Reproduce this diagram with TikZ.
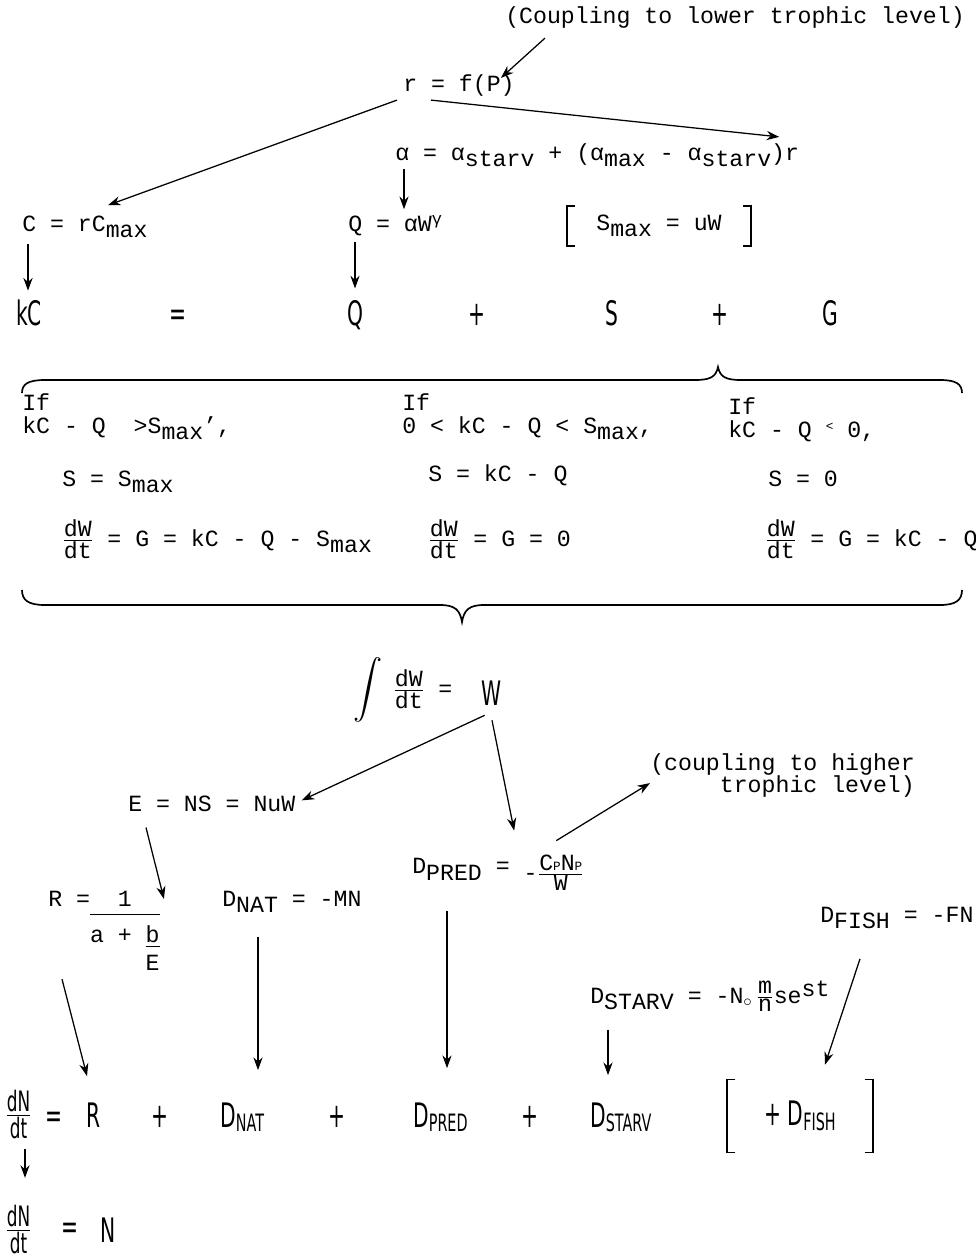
\documentclass[tikz,border=0pt]{standalone}
\usepackage{amsmath}
\usepackage{fontspec}
\setmainfont{Liberation Mono}
\newfontfamily\plotfont[FakeStretch=0.6]{DejaVu Sans}
\usetikzlibrary{calc,arrows.meta}

\newcommand{\lo}[1]{\raisebox{-4.5pt}{#1}}
\newcommand{\hi}[1]{\raisebox{4.5pt}{#1}}
\newcommand{\bsub}[1]{\raisebox{-3.5pt}{\fontsize{17}{17}\selectfont #1}}
\newcommand{\frc}[2]{\ensuremath{\genfrac{}{}{0.6pt}{}{\mbox{#1}}{\mbox{#2}}}}

\begin{document}
\begin{tikzpicture}[x=0.025cm, y=-0.025cm,
    tw/.style={font=\fontsize{16.5}{19}\selectfont, inner sep=0pt, anchor=base west},
    big/.style={font=\plotfont\fontsize{24}{28}\selectfont, inner sep=0pt, anchor=base},
    smallplot/.style={font=\plotfont\fontsize{20}{20}\selectfont},
    arr/.style={-{Stealth[length=9pt,width=6.5pt]}, line width=0.9pt},
    boldarr/.style={arr, line width=1.8pt},
    brace/.style={line width=1.2pt},
    bracket/.style={line width=1pt},
  ]
  \useasboundingbox (0,0) rectangle (975,1258);

  % consumption and respiration
  \node[tw] (lowlab) at (505,23) {(Coupling to lower trophic level)};
  \node[tw] (rfp) at (403,91) {r = f(P)};
  \node[tw] (alpha) at (395,160) {α = α\lo{starv} + (α\lo{max} - α\lo{starv})r};
  \node[tw] (cmax) at (22,231) {C = rC\lo{max}};
  \node[tw] (resp) at (348,231) {Q = αW\hi{\fontsize{12}{12}\selectfont γ}};
  \node[tw, anchor=center, minimum width=4.58cm, minimum height=0.98cm] (smax) at (659,226) {S\lo{max} = uW};
  \draw[bracket] ($(smax.north west)+(8,0)$) -- (smax.north west) -- (smax.south west) -- ++(8,0);
  \draw[bracket] ($(smax.north east)+(-8,0)$) -- (smax.north east) -- (smax.south east) -- ++(-8,0);

  \draw[arr] ($(lowlab.south west)+(40,10)$) -- ($(rfp.north east)+(-14,4)$);
  \draw[arr] ($(rfp.south west)+(-6,4)$) -- ($(cmax.north west)+(86,-10)$);
  \draw[arr] ($(rfp.south west)+(28,4)$) -- ($(alpha.north east)+(-20,-6)$);
  \draw[arr] ($(alpha.south west)+(9,2)$) -- ($(resp.north west)+(56,-6)$);

  % energy balance
  \node[big] (kc) at (29,325) {kC};
  \node[big] (eq1) at (178,325) {=};
  \node[big] (bigq) at (355,325) {Q};
  \node[big] (plus1) at (477,325) {+};
  \node[big] (bigs) at (612,325) {S};
  \node[big] (plus2) at (720,325) {+};
  \node[big] (bigg) at (830,325) {G};

  \coordinate (c1) at ($(cmax.south west)+(6,6)$);
  \draw[boldarr, shorten >=6pt] (c1) -- (c1 |- kc.north);
  \coordinate (c2) at ($(resp.south west)+(7,6)$);
  \draw[arr, shorten >=8pt] (c2) -- (c2 |- bigq.north);

  \draw[brace] (22,393) .. controls (22,384) and (28,380) .. (45,380) -- (695,380)
    .. controls (710,380) and (716,377) .. (718,367) .. controls (720,377) and (726,380) .. (741,380)
    -- (940,380) .. controls (956,380) and (962,384) .. (962,393);

  % three cases
  \node[tw] (if1) at (22,410) {If};
  \node[tw] (cond1) at (22,433) {kC - Q~~>S\lo{max}',};
  \node[tw] (s1) at (62,486) {S = S\lo{max}};
  \node[tw] (g1) at (62,546) {\frc{dW}{dt} = G = kC - Q - S\lo{max}};
  \node[tw] (if2) at (402,410) {If};
  \node[tw] (cond2) at (402,433) {0 < kC - Q < S\lo{max},};
  \node[tw] (s2) at (428,481) {S = kC - Q};
  \node[tw] (g2) at (428,546) {\frc{dW}{dt} = G = 0};
  \node[tw] (if3) at (728,414) {If};
  \node[tw] (cond3) at (728,437) {kC - Q \hi{\small <} 0,};
  \node[tw] (s3) at (768,486) {S = 0};
  \node[tw] (g3) at (765,546) {\frc{dW}{dt} = G = kC - Q};

  \draw[brace] (22,590) .. controls (22,600) and (28,605) .. (45,605) -- (440,605)
    .. controls (455,605) and (460,610) .. (462,622) .. controls (464,610) and (469,605) .. (484,605)
    -- (940,605) .. controls (956,605) and (962,600) .. (962,590);

  % growth and population
  \node[tw, anchor=center] (intg) at (368,690) {\scalebox{1.2}{$\displaystyle\int$}};
  \node[tw] (dwdt) at (393,696) {\frc{dW}{dt} =};
  \node[big] (wt) at (492,705) {W};

  \node[tw] (eggs) at (128,811) {E = NS = NuW};
  \node[tw] (recr) at (48,906) {R =\begin{tabular}[t]{@{}c@{}}1\\\hline
      \rule{0pt}{20pt}a + \begin{tabular}[t]{@{}c@{}}\underline{b}\\[1pt]E\end{tabular}\end{tabular}};
  \node[tw] (dnat) at (222,906) {D\lo{NAT} = -MN};
  \node[tw] (dpred) at (412,880) {\hi{D}PRED \hi{=} -\frc{C{\small P}N{\small P}}{W}};
  \node[tw, anchor=north west, align=right, font=\fontsize{16.5}{15.6}\selectfont] (higher) at (650,753)
    {(coupling to higher\\trophic level)};
  \node[tw] (dfish) at (820,922) {D\lo{FISH} = -FN};
  \node[tw] (dstarv) at (590,1003) {D\lo{STARV} = -N$_\circ$\,\frc{m}{n}se\hi{st}};

  \draw[arr] ($(wt.south west)+(3,10)$) -- ($(eggs.east)+(6,-3)$);
  \draw[arr] ($(wt.south)+(0,15)$) -- ($(dpred.north)+(16,-24)$);
  \draw[arr] ($(dpred.north east)+(-28,-14)$) -- ($(higher.west)+(0,8)$);
  \draw[arr] ($(eggs.south west)+(18,16)$) -- ($(recr.north east)+(4,12)$);

  % population balance
  \node[big, anchor=base west, smallplot] (dndt) at (5,1123) {\frc{dN}{dt}};
  \node[big] (eq2) at (54,1127) {=};
  \node[big] (bigr) at (94,1127) {R};
  \node[big] (plus3) at (160,1127) {+};
  \node[big, anchor=base west] (bdnat) at (220,1127) {D\bsub{NAT}};
  \node[big] (plus4) at (337,1127) {+};
  \node[big, anchor=base west] (bdpred) at (413,1127) {D\bsub{PRED}};
  \node[big] (plus5) at (530,1127) {+};
  \node[big, anchor=base west] (bdstarv) at (590,1127) {D\bsub{STARV}};
  \node[big, anchor=center, minimum width=3.63cm, minimum height=1.8cm] (bfish) at (800,1116) {+ D\bsub{FISH}};
  \draw[bracket] ($(bfish.north west)+(8,0)$) -- (bfish.north west) -- (bfish.south west) -- ++(8,0);
  \draw[bracket] ($(bfish.north east)+(-8,0)$) -- (bfish.north east) -- (bfish.south east) -- ++(-8,0);

  \node[big, anchor=base west, smallplot] (dndt2) at (5,1238) {\frc{dN}{dt}};
  \node[big] (eq3) at (70,1238) {=};
  \node[big] (bign) at (108,1242) {N};

  \draw[arr] ($(recr.south west)+(14,0)$) -- ($(bigr.north)+(-7,-26)$);
  \draw[arr] ($(dnat.south west)+(36,24)$) -- ($(bdnat.north west)+(38,-32)$);
  \draw[arr] ($(dpred.south west)+(35,20)$) -- ($(bdpred.north west)+(34,-34)$);
  \draw[arr] ($(dstarv.south west)+(18,18)$) -- ($(bdstarv.north west)+(18,-27)$);
  \draw[arr] ($(dfish.south west)+(40,30)$) -- ($(bfish.north)+(25,-15)$);
  \draw[arr] ($(dndt.south west)+(20,10)$) -- ($(dndt2.north west)+(20,-27)$);
\end{tikzpicture}
\end{document}
